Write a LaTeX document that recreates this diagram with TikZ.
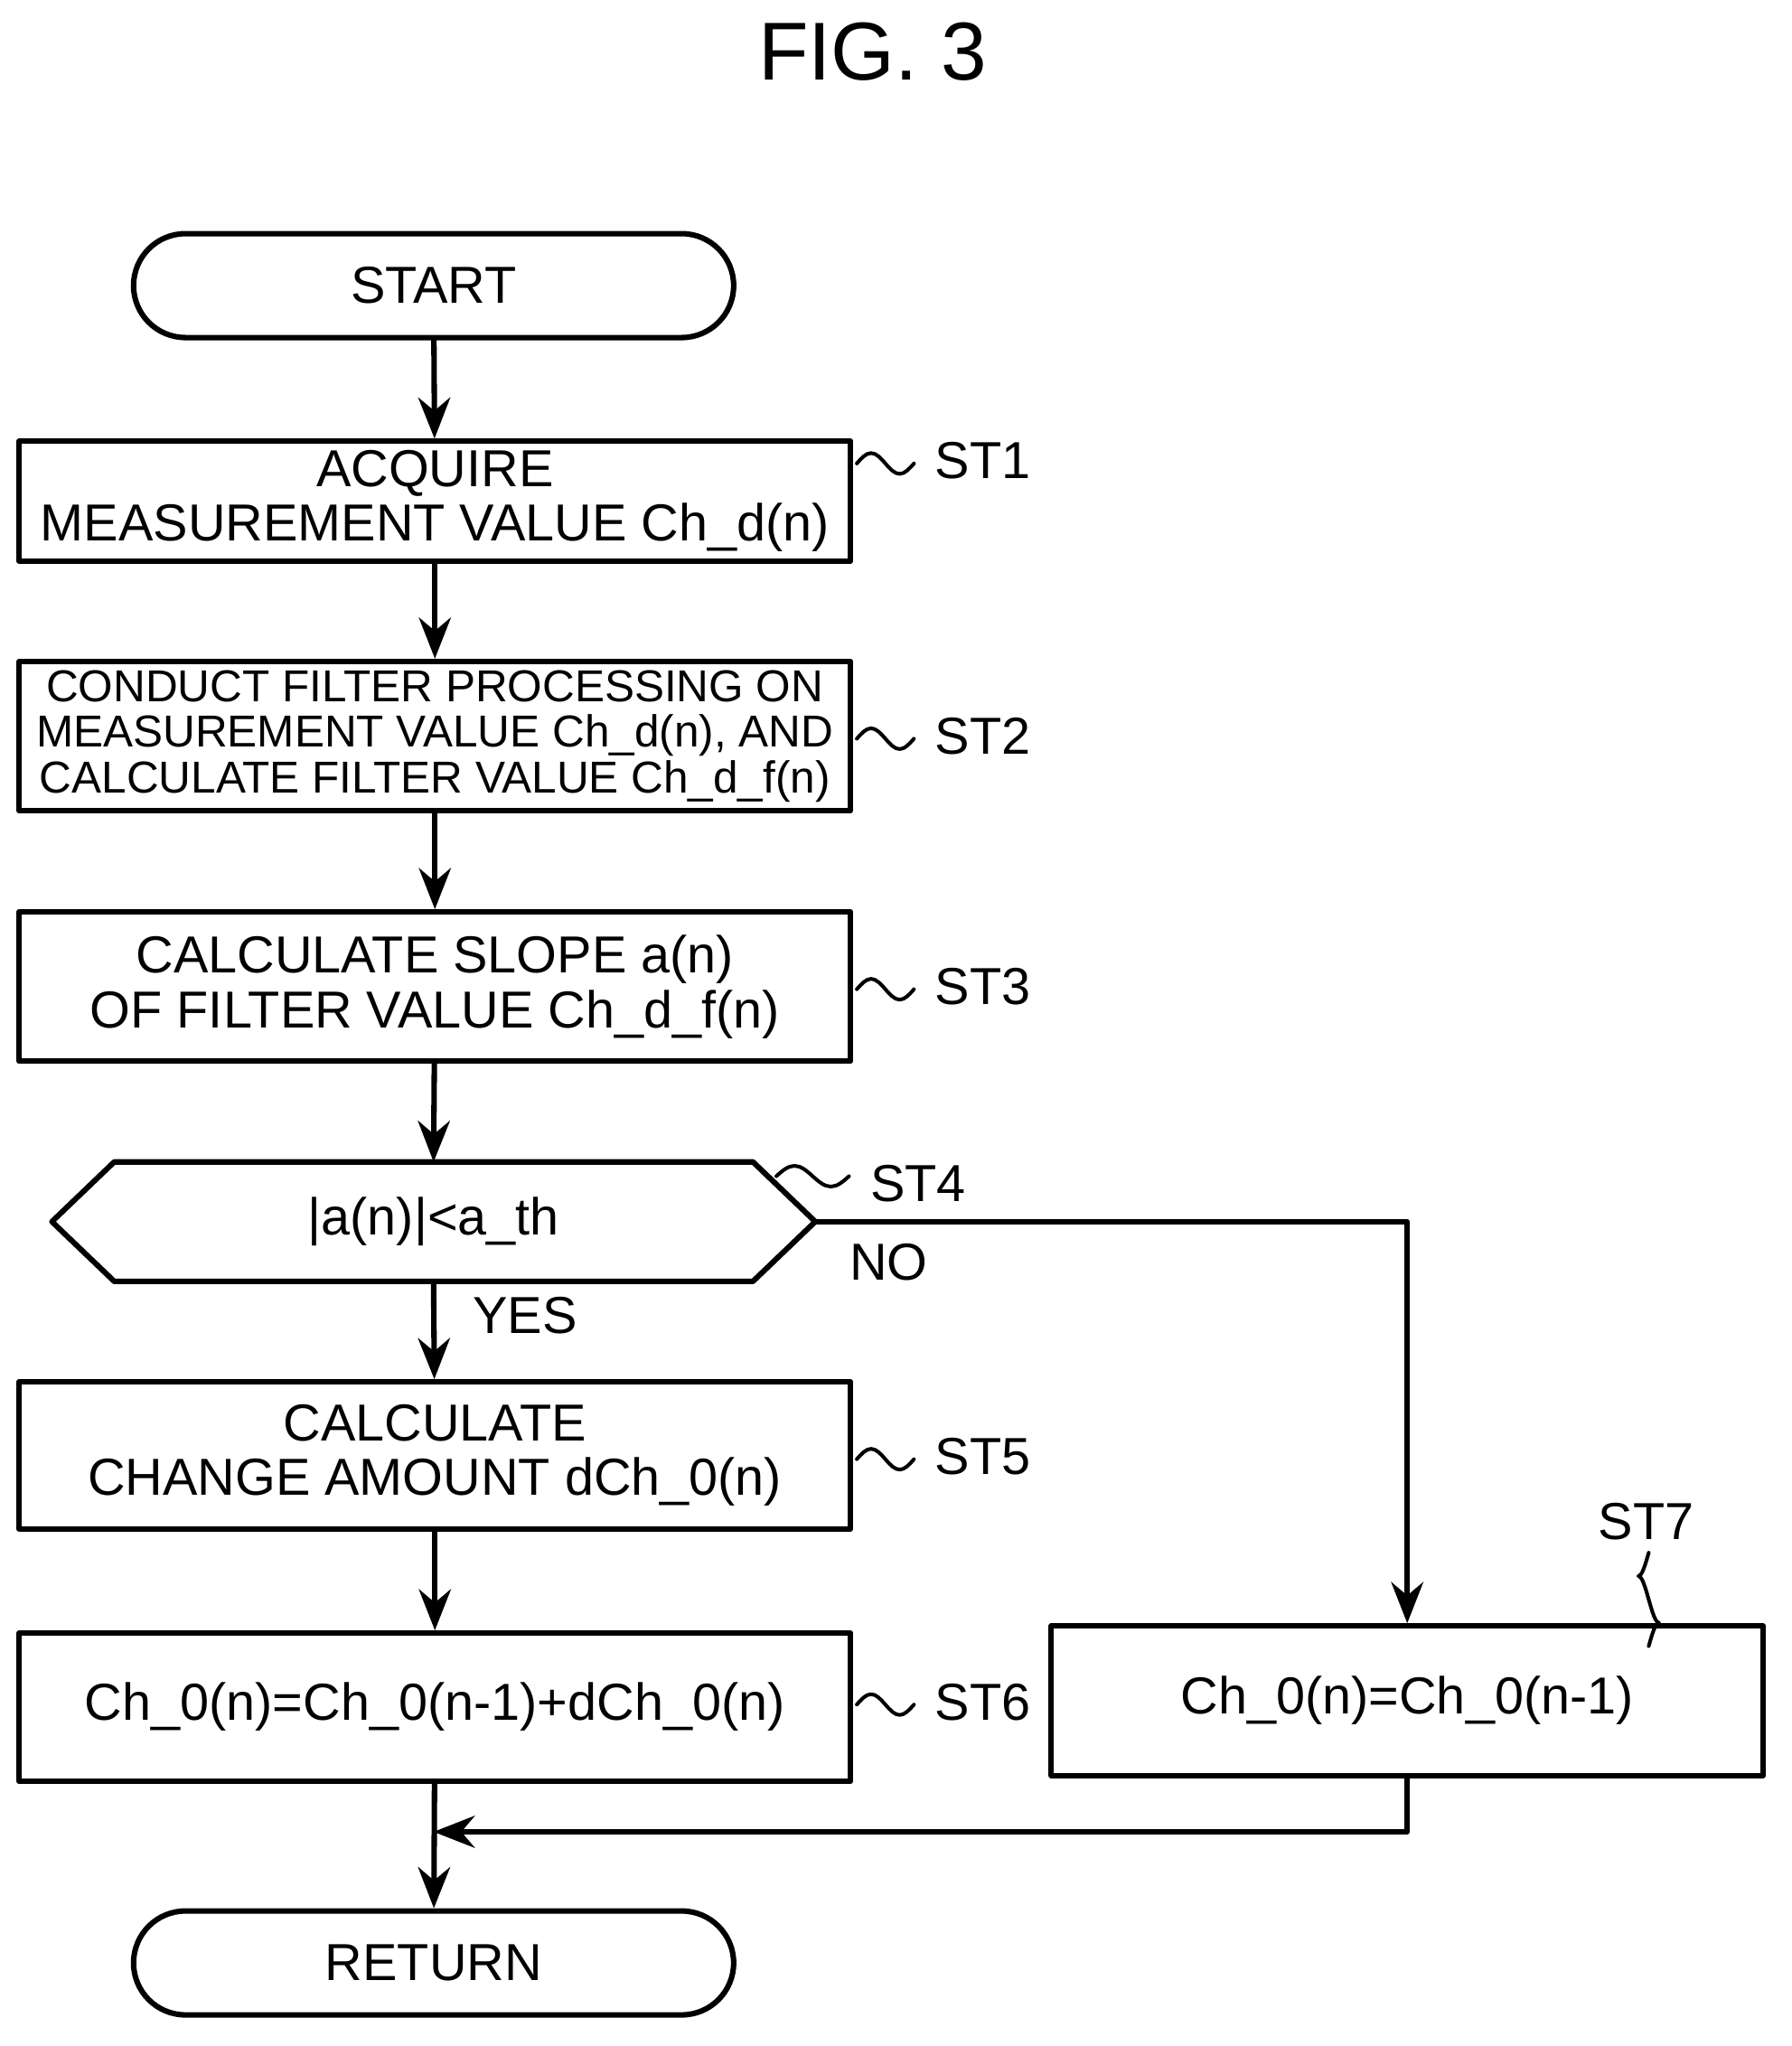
\documentclass[tikz,border=0pt]{standalone}
\usepackage{fontspec}
\setmainfont{Liberation Sans}
\usetikzlibrary{arrows.meta}
\tikzset{
  box/.style={draw, line width=1.2pt, minimum width=6.4cm, inner sep=0pt, align=center, font=\fontsize{11.4}{12}\selectfont},
  term/.style={draw, line width=1.2pt, rounded corners=0.4cm, minimum width=4.62cm, minimum height=0.8cm, font=\fontsize{11.4}{12}\selectfont},
  flow/.style={line width=1.2pt, -{Stealth[length=9pt,width=7pt]}},
  lbl/.style={font=\fontsize{11.4}{12}\selectfont, anchor=west},
}
\begin{document}
\begin{tikzpicture}[x=0.01cm, y=-0.01cm, line cap=round, line join=round]
  \useasboundingbox (0,0) rectangle (1380,1576);
  \node[font=\fontsize{18}{18}\selectfont] (title) at (672,40) {FIG. 3};

  %--- main column --------------------------------------------------------
  \node[term] (start) at (334,220) {START};
  \node[box, minimum height=0.92cm] (st1) at (335,386) {ACQUIRE\\MEASUREMENT VALUE Ch\_d(n)};
  \node[box, minimum height=1.15cm, font=\fontsize{9.8}{10}\selectfont] (st2) at (335,567)
    {CONDUCT FILTER PROCESSING ON\\MEASUREMENT VALUE Ch\_d(n), AND\\CALCULATE FILTER VALUE Ch\_d\_f(n)};
  \node[box, minimum height=1.15cm] (st3) at (335,760) {CALCULATE SLOPE a(n)\\OF FILTER VALUE Ch\_d\_f(n)};

  % decision
  \coordinate (dl) at (40,941);
  \coordinate (dr) at (628,941);
  \draw[line width=1.2pt] (dl) -- (88,895) -- (580,895) -- (dr) -- (580,987) -- (88,987) -- cycle;
  \node[font=\fontsize{11.4}{12}\selectfont] (st4) at (334,941) {|a(n)|<a\_th};
  \coordinate (dt) at (334,895);
  \coordinate (db) at (334,987);

  \node[box, minimum height=1.13cm] (st5) at (335,1121) {CALCULATE\\CHANGE AMOUNT dCh\_0(n)};
  \node[box, minimum height=1.14cm] (st6) at (335,1315) {Ch\_0(n)=Ch\_0(n-1)+dCh\_0(n)};
  \node[box, minimum width=5.48cm, minimum height=1.15cm] (st7) at (1084,1310) {Ch\_0(n)=Ch\_0(n-1)};
  \node[term] (ret) at (334,1512) {RETURN};

  %--- connectors ----------------------------------------------------------
  \draw[flow] (start) -- (st1);
  \draw[flow] (st1) -- (st2);
  \draw[flow] (st2) -- (st3);
  \draw[flow] (st3) -- (dt);
  \draw[flow] (db) -- (st5);
  \draw[flow] (st5) -- (st6);
  \draw[flow] (dr) -| (st7);
  \coordinate (m) at (334,1411);
  \draw[flow] (st7.south) |- (m);
  \draw[flow] (st6) -- (ret);

  \node[lbl] (yes) at (352,1013) {YES};
  \node[lbl] (no) at (642,972) {NO};

  %--- step labels ---------------------------------------------------------
  \foreach \y in {355, 567, 760, 1122, 1311}{
    \draw[line width=0.8pt] (660,\y+2) sin ++(11,-8) cos ++(11,8) sin ++(11,8) cos ++(11,-8);
  }
  \node[lbl] at (708,355) {ST1};
  \node[lbl] at (708,567) {ST2};
  \node[lbl] at (708,760) {ST3};
  \node[lbl] at (708,1122) {ST5};
  \node[lbl] at (708,1311) {ST6};
  \draw[line width=0.8pt] (598,906) sin ++(14,-8) cos ++(14,8) sin ++(14,8) cos ++(14,-8);
  \node[lbl] at (658,912) {ST4};
  \draw[line width=0.8pt] (1270,1196) sin ++(-8,18) cos ++(8,18) sin ++(8,18) cos ++(-8,18);
  \node[font=\fontsize{11.4}{12}\selectfont] at (1268,1172) {ST7};
\end{tikzpicture}
\end{document}
